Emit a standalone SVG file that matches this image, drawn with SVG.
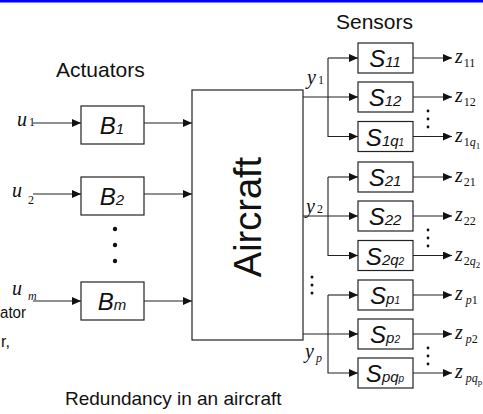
<svg xmlns="http://www.w3.org/2000/svg" width="483" height="414" viewBox="0 0 483 414">
<style>
.box{fill:#fff;stroke:#222;stroke-width:1.2}
.ln{fill:none;stroke:#222;stroke-width:1.1}
.hd{font-family:"Liberation Sans",Arial,sans-serif;font-size:21px;fill:#111}
.ac{font-family:"Liberation Sans",Arial,sans-serif;font-size:38px;fill:#111}
.cap{font-family:"Liberation Sans",Arial,sans-serif;font-size:19px;fill:#111}
.frag{font-family:"Liberation Sans",Arial,sans-serif;font-size:16px;fill:#111}
.bl{font-family:"Liberation Sans",Arial,sans-serif;font-style:italic;font-size:24px;fill:#111}
.bs{font-size:15px}
.bt{font-size:10px}
.mv{font-family:"Liberation Serif","Times New Roman",serif;font-style:italic;font-size:20px;fill:#111}
.ms{font-style:normal;font-size:12px}
.mi{font-style:italic;font-size:12px}
.mt{font-style:normal;font-size:9px}
.dot{fill:#111}
</style>
<defs>
<marker id="ah" markerWidth="9" markerHeight="8" refX="9" refY="4" orient="auto" markerUnits="userSpaceOnUse">
<path d="M0,0 L9,4 L0,8 Z" fill="#111"/>
</marker>
</defs>
<rect x="0" y="0" width="483" height="2.5" fill="#0000ff"/>
<text class="hd" x="56" y="77">Actuators</text>
<text class="hd" x="336" y="29">Sensors</text>
<text class="cap" x="65" y="405">Redundancy in an aircraft</text>
<text class="frag" x="0" y="318" textLength="26" lengthAdjust="spacingAndGlyphs">ator</text>
<text class="frag" x="1" y="347">r,</text>

<g id="connectors">
<line class="ln" x1="33" y1="123" x2="81" y2="123" marker-end="url(#ah)"/>
<line class="ln" x1="33" y1="194" x2="81" y2="194" marker-end="url(#ah)"/>
<line class="ln" x1="33" y1="301" x2="81" y2="301" marker-end="url(#ah)"/>
<line class="ln" x1="144" y1="123" x2="192" y2="123" marker-end="url(#ah)"/>
<line class="ln" x1="144" y1="194" x2="192" y2="194" marker-end="url(#ah)"/>
<line class="ln" x1="144" y1="301" x2="192" y2="301" marker-end="url(#ah)"/>
<line class="ln" x1="303" y1="97" x2="358" y2="97" marker-end="url(#ah)"/>
<polyline class="ln" points="328,58 328,136.5 358,136.5" marker-end="url(#ah)"/>
<line class="ln" x1="328" y1="58" x2="358" y2="58" marker-end="url(#ah)"/>
<line class="ln" x1="303" y1="216" x2="358" y2="216" marker-end="url(#ah)"/>
<polyline class="ln" points="328,177 328,255.5 358,255.5" marker-end="url(#ah)"/>
<line class="ln" x1="328" y1="177" x2="358" y2="177" marker-end="url(#ah)"/>
<line class="ln" x1="303" y1="334" x2="358" y2="334" marker-end="url(#ah)"/>
<polyline class="ln" points="328,295 328,373 358,373" marker-end="url(#ah)"/>
<line class="ln" x1="328" y1="295" x2="358" y2="295" marker-end="url(#ah)"/>
<line class="ln" x1="413" y1="58" x2="452" y2="58" marker-end="url(#ah)"/>
<line class="ln" x1="413" y1="97" x2="452" y2="97" marker-end="url(#ah)"/>
<line class="ln" x1="413" y1="136.5" x2="452" y2="136.5" marker-end="url(#ah)"/>
<line class="ln" x1="413" y1="177" x2="452" y2="177" marker-end="url(#ah)"/>
<line class="ln" x1="413" y1="216" x2="452" y2="216" marker-end="url(#ah)"/>
<line class="ln" x1="413" y1="255.5" x2="452" y2="255.5" marker-end="url(#ah)"/>
<line class="ln" x1="413" y1="295" x2="452" y2="295" marker-end="url(#ah)"/>
<line class="ln" x1="413" y1="334" x2="452" y2="334" marker-end="url(#ah)"/>
<line class="ln" x1="413" y1="373" x2="452" y2="373" marker-end="url(#ah)"/>
</g>

<g id="inputs">
<text class="mv" x="17" y="126">u<tspan class="ms" dx="2" dy="0">1</tspan></text>
<text class="mv" x="12" y="197">u<tspan class="ms" dx="6" dy="7">2</tspan></text>
<text class="mv" x="12" y="295">u<tspan class="mi" dx="6" dy="5">m</tspan></text>
</g>

<g id="B1"><rect class="box" x="81" y="106" width="63" height="38"/><text class="bl" x="112" y="134" text-anchor="middle">B<tspan class="bs">1</tspan></text></g>
<g id="B2"><rect class="box" x="81" y="177" width="63" height="38"/><text class="bl" x="112" y="205" text-anchor="middle">B<tspan class="bs">2</tspan></text></g>
<g id="Bdots"><circle class="dot" cx="115" cy="229" r="2.2"/><circle class="dot" cx="115" cy="245" r="2.2"/><circle class="dot" cx="115" cy="261" r="2.2"/></g>
<g id="Bm"><rect class="box" x="81" y="282" width="63" height="38"/><text class="bl" x="112" y="310" text-anchor="middle">B<tspan class="bs">m</tspan></text></g>

<g id="aircraft">
<rect class="box" x="192" y="90" width="111" height="250"/>
<text class="ac" transform="translate(261,217) rotate(-90)" text-anchor="middle">Aircraft</text>
</g>

<g id="outputs">
<text class="mv" x="307" y="84">y<tspan class="ms" dx="2" dy="0">1</tspan></text>
<text class="mv" x="306" y="213">y<tspan class="ms" dx="2" dy="0">2</tspan></text>
<text class="mv" x="305" y="358">y<tspan class="mi" dx="2" dy="4">p</tspan></text>
<circle class="dot" cx="312" cy="277" r="1.5"/><circle class="dot" cx="312" cy="285" r="1.5"/><circle class="dot" cx="312" cy="293" r="1.5"/>
</g>

<g id="S11"><rect class="box" x="358" y="43" width="55" height="30"/><text class="bl" x="385" y="67" text-anchor="middle">S<tspan class="bs">11</tspan></text></g>
<g id="S12"><rect class="box" x="358" y="82" width="55" height="30"/><text class="bl" x="385" y="106" text-anchor="middle">S<tspan class="bs">12</tspan></text></g>
<g id="S1q1"><rect class="box" x="358" y="121.5" width="55" height="30"/><text class="bl" x="385" y="145.5" text-anchor="middle">S<tspan class="bs">1q</tspan><tspan class="bt">1</tspan></text></g>
<g id="S21"><rect class="box" x="358" y="162" width="55" height="30"/><text class="bl" x="385" y="186" text-anchor="middle">S<tspan class="bs">21</tspan></text></g>
<g id="S22"><rect class="box" x="358" y="201" width="55" height="30"/><text class="bl" x="385" y="225" text-anchor="middle">S<tspan class="bs">22</tspan></text></g>
<g id="S2q2"><rect class="box" x="358" y="240.5" width="55" height="30"/><text class="bl" x="385" y="264.5" text-anchor="middle">S<tspan class="bs">2q</tspan><tspan class="bt">2</tspan></text></g>
<g id="Sp1"><rect class="box" x="358" y="280" width="55" height="30"/><text class="bl" x="385" y="304" text-anchor="middle">S<tspan class="bs">p</tspan><tspan class="bt">1</tspan></text></g>
<g id="Sp2"><rect class="box" x="358" y="319" width="55" height="30"/><text class="bl" x="385" y="343" text-anchor="middle">S<tspan class="bs">p</tspan><tspan class="bt">2</tspan></text></g>
<g id="Spqp"><rect class="box" x="358" y="358" width="55" height="30"/><text class="bl" x="385" y="382" text-anchor="middle">S<tspan class="bs">pq</tspan><tspan class="bt">p</tspan></text></g>

<g id="zlabels">
<text class="mv" x="455" y="63">z<tspan class="ms" dx="1" dy="4">11</tspan></text>
<text class="mv" x="455" y="102">z<tspan class="ms" dx="1" dy="4">12</tspan></text>
<text class="mv" x="455" y="141.5">z<tspan class="ms" dx="1" dy="4">1</tspan><tspan class="mi">q</tspan><tspan class="mt" dy="3">1</tspan></text>
<text class="mv" x="455" y="182">z<tspan class="ms" dx="1" dy="4">21</tspan></text>
<text class="mv" x="455" y="221">z<tspan class="ms" dx="1" dy="4">22</tspan></text>
<text class="mv" x="455" y="260.5">z<tspan class="ms" dx="1" dy="4">2</tspan><tspan class="mi">q</tspan><tspan class="mt" dy="3">2</tspan></text>
<text class="mv" x="455" y="300">z<tspan class="mi" dx="3" dy="4">p</tspan><tspan class="ms">1</tspan></text>
<text class="mv" x="455" y="339">z<tspan class="mi" dx="3" dy="4">p</tspan><tspan class="ms">2</tspan></text>
<text class="mv" x="455" y="378">z<tspan class="mi" dx="3" dy="4">pq</tspan><tspan class="mt" dy="3">p</tspan></text>
<circle class="dot" cx="428" cy="111" r="1.4"/><circle class="dot" cx="428" cy="119" r="1.4"/><circle class="dot" cx="428" cy="127" r="1.4"/>
<circle class="dot" cx="428" cy="230" r="1.4"/><circle class="dot" cx="428" cy="238" r="1.4"/><circle class="dot" cx="428" cy="246" r="1.4"/>
<circle class="dot" cx="428" cy="348" r="1.4"/><circle class="dot" cx="428" cy="356" r="1.4"/><circle class="dot" cx="428" cy="364" r="1.4"/>
</g>
</svg>
